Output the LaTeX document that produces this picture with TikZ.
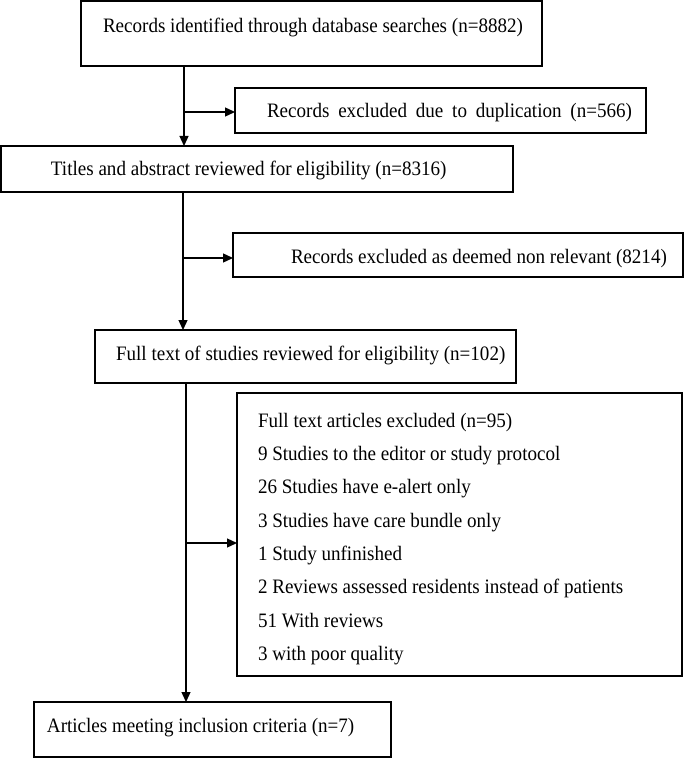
\documentclass[tikz,border=0pt]{standalone}
\usepackage{fontspec}
\setmainfont[FakeStretch=0.93]{Liberation Serif}
\usetikzlibrary{arrows.meta}
\newcommand\normsp{\spaceskip=0pt\xspaceskip=0pt}
\begin{document}
\begin{tikzpicture}[x=1pt,y=-1pt,
  box/.style={draw=black, line width=1.3pt, rectangle, inner ysep=0pt, inner xsep=0pt,
    outer sep=0pt, align=left, font=\fontsize{20.5}{24}\selectfont, anchor=north west},
  listbox/.style={box, inner xsep=21pt, font=\fontsize{20.5}{33.3}\selectfont},
  arr/.style={line width=1.3pt, -{Triangle[length=10pt,width=9pt]}}]
\useasboundingbox (0,0) rectangle (685,759);

\node[box, text width=461pt, text height=31.5pt, text depth=33.5pt] (b1) at (81,1)
  {\normsp\hspace*{22pt}Records identified through database searches (n=8882)};
\node[box, text width=411pt, text height=30pt, text depth=15pt] (b2) at (235,88)
  {\normsp\hspace*{32pt}\makebox[365pt][s]{Records excluded due to duplication (n=566)}};
\node[box, text width=512pt, text height=29.5pt, text depth=16.5pt] (b3) at (1,146)
  {\normsp\hspace*{50pt}Titles and abstract reviewed for eligibility (n=8316)};
\node[box, text width=450pt, text height=30.5pt, text depth=13.5pt] (b4) at (233,233)
  {\normsp\hspace*{58pt}Records excluded as deemed non relevant (8214)};
\node[box, text width=421pt, text height=30.5pt, text depth=22.5pt] (b5) at (95,330)
  {\normsp\hspace*{21pt}Full text of studies reviewed for eligibility (n=102)};
\node[listbox, text width=403pt, minimum height=283pt] (b6) at (237,393)
  {\normsp\rule{0pt}{23pt}Full text articles excluded (n=95)\\
   9 Studies to the editor or study protocol\\
   26 Studies have e-alert only\\
   3 Studies have care bundle only\\
   1 Study unfinished\\
   2 Reviews assessed residents instead of patients\\
   51 With reviews\\
   3 with poor quality};
\node[box, text width=357pt, text height=30.5pt, text depth=24.5pt] (b7) at (34,702)
  {\normsp\hspace*{13pt}Articles meeting inclusion criteria (n=7)};

\coordinate (j1) at (184,112);
\draw[arr] (b1.south -| j1) -- (b3.north -| j1);
\draw[arr] (j1) -- (j1 -| b2.west);
\coordinate (j2) at (183,258);
\draw[arr] (b3.south -| j2) -- (b5.north -| j2);
\draw[arr] (j2) -- (j2 -| b4.west);
\coordinate (j3) at (186,543);
\draw[arr] (b5.south -| j3) -- (b7.north -| j3);
\draw[arr] (j3) -- (j3 -| b6.west);
\end{tikzpicture}
\end{document}
